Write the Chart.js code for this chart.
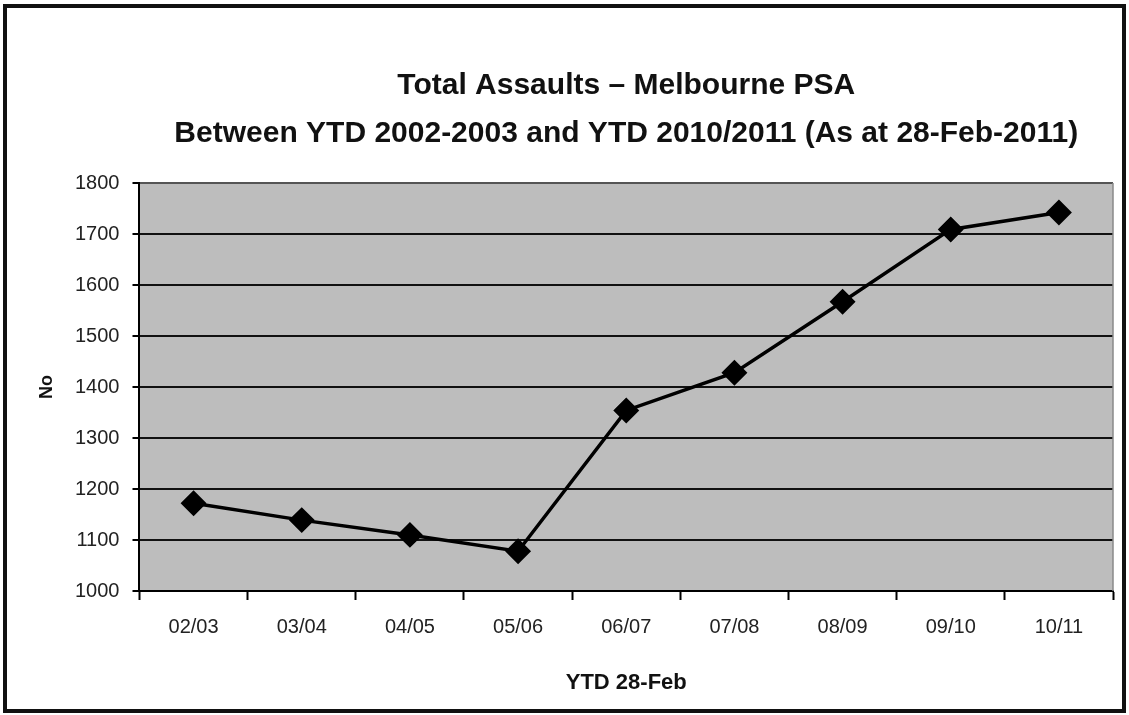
<!DOCTYPE html>
<html>
<head>
<meta charset="utf-8">
<script src="https://cdn.jsdelivr.net/npm/chart.js@4"></script>
<style>
  html, body { margin: 0; padding: 0; background: #fff; }
  #wrap { width: 1129px; height: 715px; position: relative; }
</style>
</head>
<body>
<div id="wrap"><canvas id="c" width="1129" height="715"></canvas></div>
<script>
const categories = ['02/03', '03/04', '04/05', '05/06', '06/07', '07/08', '08/09', '09/10', '10/11'];
const assaults = [1172, 1139, 1110, 1078, 1354, 1428, 1567, 1709, 1742];
const yTicks = [1000, 1100, 1200, 1300, 1400, 1500, 1600, 1700, 1800];
const titleLines = ['Total Assaults \u2013 Melbourne PSA', 'Between YTD 2002-2003 and YTD 2010/2011 (As at 28-Feb-2011)'];
const xTitle = 'YTD 28-Feb';
const yTitle = 'No';

const FONT = '"Liberation Sans", Arial, sans-serif';

const decor = {
  id: 'decor',
  beforeDraw(chart) {
    const { ctx, chartArea: a } = chart;
    ctx.save();
    ctx.fillStyle = '#ffffff';
    ctx.fillRect(0, 0, chart.width, chart.height);
    ctx.fillStyle = '#bdbdbd';
    ctx.fillRect(a.left, a.top, a.right - a.left, a.bottom - a.top);
    ctx.restore();
  },
  afterDraw(chart) {
    const { ctx, chartArea: a } = chart;
    ctx.save();
    ctx.strokeStyle = '#8a8a8a';
    ctx.lineWidth = 1.5;
    ctx.beginPath();
    ctx.moveTo(a.right, a.top);
    ctx.lineTo(a.right, a.bottom);
    ctx.stroke();
    ctx.strokeStyle = '#111';
    ctx.lineWidth = 4;
    ctx.strokeRect(5, 6, 1119, 705);
    ctx.restore();
  }
};

new Chart(document.getElementById('c'), {
  type: 'line',
  data: {
    labels: categories,
    datasets: [{
      data: assaults,
      borderColor: '#000',
      backgroundColor: '#000',
      borderWidth: 3.5,
      pointStyle: 'rectRot',
      pointRadius: 10.5,
      pointHoverRadius: 10.5,
      pointBackgroundColor: '#000',
      pointBorderColor: '#000',
      tension: 0,
      fill: false
    }]
  },
  options: {
    responsive: false,
    animation: false,
    devicePixelRatio: 1,
    layout: { padding: { top: 62, left: 10, right: 16, bottom: 10 } },
    plugins: {
      legend: { display: false },
      tooltip: { enabled: false },
      title: {
        display: true,
        fullSize: false,
        text: titleLines,
        color: '#111',
        font: { family: FONT, size: 30, weight: 'bold', lineHeight: 1.6 },
        padding: { top: 0, bottom: 25 }
      }
    },
    scales: {
      x: {
        type: 'category',
        offset: true,
        border: { display: true, color: '#000', width: 2 },
        grid: {
          offset: true,
          drawOnChartArea: false,
          drawTicks: true,
          tickLength: 9,
          tickWidth: 2,
          tickColor: '#000'
        },
        ticks: {
          color: '#222',
          padding: 15,
          maxRotation: 0,
          font: { family: FONT, size: 20 }
        },
        title: {
          display: true,
          text: xTitle,
          color: '#111',
          font: { family: FONT, size: 22, weight: 'bold' },
          padding: { top: 15.6, bottom: 9 }
        }
      },
      y: {
        min: 1000,
        max: 1800,
        afterBuildTicks(scale) { scale.ticks = yTicks.map(v => ({ value: v })); },
        border: { display: true, color: '#000', width: 2 },
        grid: {
          color: (c) => (c.tick && c.tick.value === 1800) ? '#555' : '#111',
          lineWidth: 2,
          drawTicks: true,
          tickLength: 7,
          tickColor: '#000',
          tickWidth: 2
        },
        ticks: {
          color: '#222',
          padding: 13,
          font: { family: FONT, size: 20 },
          callback: (v) => String(v)
        },
        title: {
          display: true,
          text: yTitle,
          color: '#111',
          font: { family: FONT, size: 18, weight: 'bold' },
          padding: { top: 26, bottom: 4.4 }
        }
      }
    }
  },
  plugins: [decor]
});
</script>
</body>
</html>
